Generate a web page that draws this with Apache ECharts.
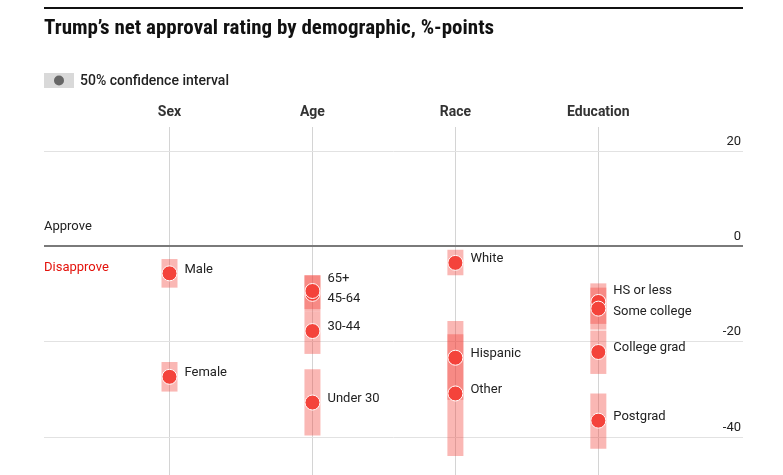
<!DOCTYPE html>
<html>
<head>
<meta charset="utf-8">
<script src="https://cdn.jsdelivr.net/npm/echarts@6/dist/echarts.min.js"></script>
<style>
html,body{margin:0;padding:0;background:#fff;}
#chart{width:783px;height:475px;}
</style>
</head>
<body>
<div id="chart"></div>
<script>
// ---- data ----
const groups = ["Sex", "Age", "Race", "Education"];
const labels = ["Male", "Female", "Under 30", "30-44", "45-64", "65+", "White", "Hispanic", "Other", "HS or less", "Some college", "College grad", "Postgrad"];
const groupIndex = [0, 0, 1, 1, 1, 1, 2, 2, 2, 3, 3, 3, 3];
const netApproval = [-5.7, -27.4, -32.8, -17.8, -10.0, -9.4, -3.5, -23.4, -30.9, -11.7, -13.1, -22.2, -36.6];
const ciTop = [-2.7, -24.3, -25.8, -13.7, -6.1, -6.1, -0.75, -15.7, -18.5, -7.8, -8.7, -17.7, -30.9];
const ciBottom = [-8.7, -30.5, -39.7, -22.6, -13.7, -13.2, -6.1, -32.2, -44.0, -16.3, -17.5, -26.8, -42.5];
const yTicks = [20, 0, -20, -40];

// label vertical nudges (style only)
const labelShiftY = {"65+": -12, "45-64": 5, "HS or less": -11, "Some college": 3};

const FONT = 'Roboto, "Liberation Sans", sans-serif';
const RED = '#f4433b';

const chart = echarts.init(document.getElementById('chart'), null, {renderer: 'canvas'});

const ciData = labels.map((n, i) => [groupIndex[i], ciTop[i], ciBottom[i]]);
const dotData = labels.map((n, i) => ({
  name: n,
  value: [groupIndex[i], netApproval[i]],
  label: {offset: [0, labelShiftY[n] !== undefined ? labelShiftY[n] : -4]}
}));

const option = {
  animation: false,
  backgroundColor: '#fff',
  grid: {left: 44, right: 40, top: 127, bottom: 0},
  xAxis: {type: 'value', min: -0.878, max: 4.012, show: false},
  yAxis: {type: 'value', min: -48, max: 25, show: false},
  graphic: [
    {type: 'line', shape: {x1: 44, y1: 8, x2: 743, y2: 8}, style: {stroke: '#111', lineWidth: 2}},
    {type: 'text', left: 44, top: 18, style: {text: 'Trump\u2019s net approval rating by demographic, %-points', font: 'bold 21px "Liberation Sans Narrow", "Roboto Condensed", Roboto, sans-serif', fill: '#111'}},
    {type: 'rect', shape: {x: 44, y: 73, width: 30, height: 15}, style: {fill: '#d9d9d9'}},
    {type: 'circle', shape: {cx: 59, cy: 80.5, r: 5}, style: {fill: '#666'}},
    {type: 'text', left: 80, top: 74, style: {text: '50% confidence interval', font: '500 14px ' + FONT, fill: '#222'}},
    {type: 'text', left: 44, top: 220, style: {text: 'Approve', font: '13px ' + FONT, fill: '#222'}},
    {type: 'text', left: 44, top: 261, style: {text: 'Disapprove', font: '13px ' + FONT, fill: '#e3120b'}}
  ],
  series: [
    {
      type: 'scatter', data: [], z: 0, silent: true,
      markLine: {
        silent: true, symbol: ['none', 'none'], animation: false, z: 0,
        data: groups.map((g, i) => ({
          name: g, xAxis: i,
          lineStyle: {color: '#d4d4d4', width: 1, type: 'solid'},
          label: {show: true, position: 'end', formatter: '{b}', distance: 8, fontFamily: FONT, fontWeight: 'bold', fontSize: 14, color: '#333'}
        })).concat(yTicks.map(v => ({
          name: String(v), yAxis: v,
          lineStyle: v === 0 ? {color: '#7a7a7a', width: 2, type: 'solid'} : {color: '#e2e2e2', width: 1, type: 'solid'},
          label: {show: true, position: 'insideEndTop', formatter: String(v), distance: [2, 3], fontFamily: FONT, fontSize: 13, color: '#222'}
        })))
      }
    },
    {
      type: 'custom', z: 2, silent: true,
      data: ciData,
      renderItem: function (params, api) {
        const top = api.coord([api.value(0), api.value(1)]);
        const bot = api.coord([api.value(0), api.value(2)]);
        const w = 16;
        return {type: 'rect', shape: {x: top[0] - w / 2, y: top[1], width: w, height: bot[1] - top[1]},
          style: {fill: 'rgba(242,66,58,0.38)'}};
      }
    },
    {
      type: 'scatter', z: 3, silent: true,
      symbol: 'circle', symbolSize: 15,
      itemStyle: {color: RED, borderColor: '#fff', borderWidth: 1, opacity: 1},
      label: {show: true, position: 'right', distance: 7, formatter: '{b}', fontFamily: FONT, fontSize: 13, color: '#222'},
      data: dotData
    }
  ]
};
chart.setOption(option);
</script>
</body>
</html>
